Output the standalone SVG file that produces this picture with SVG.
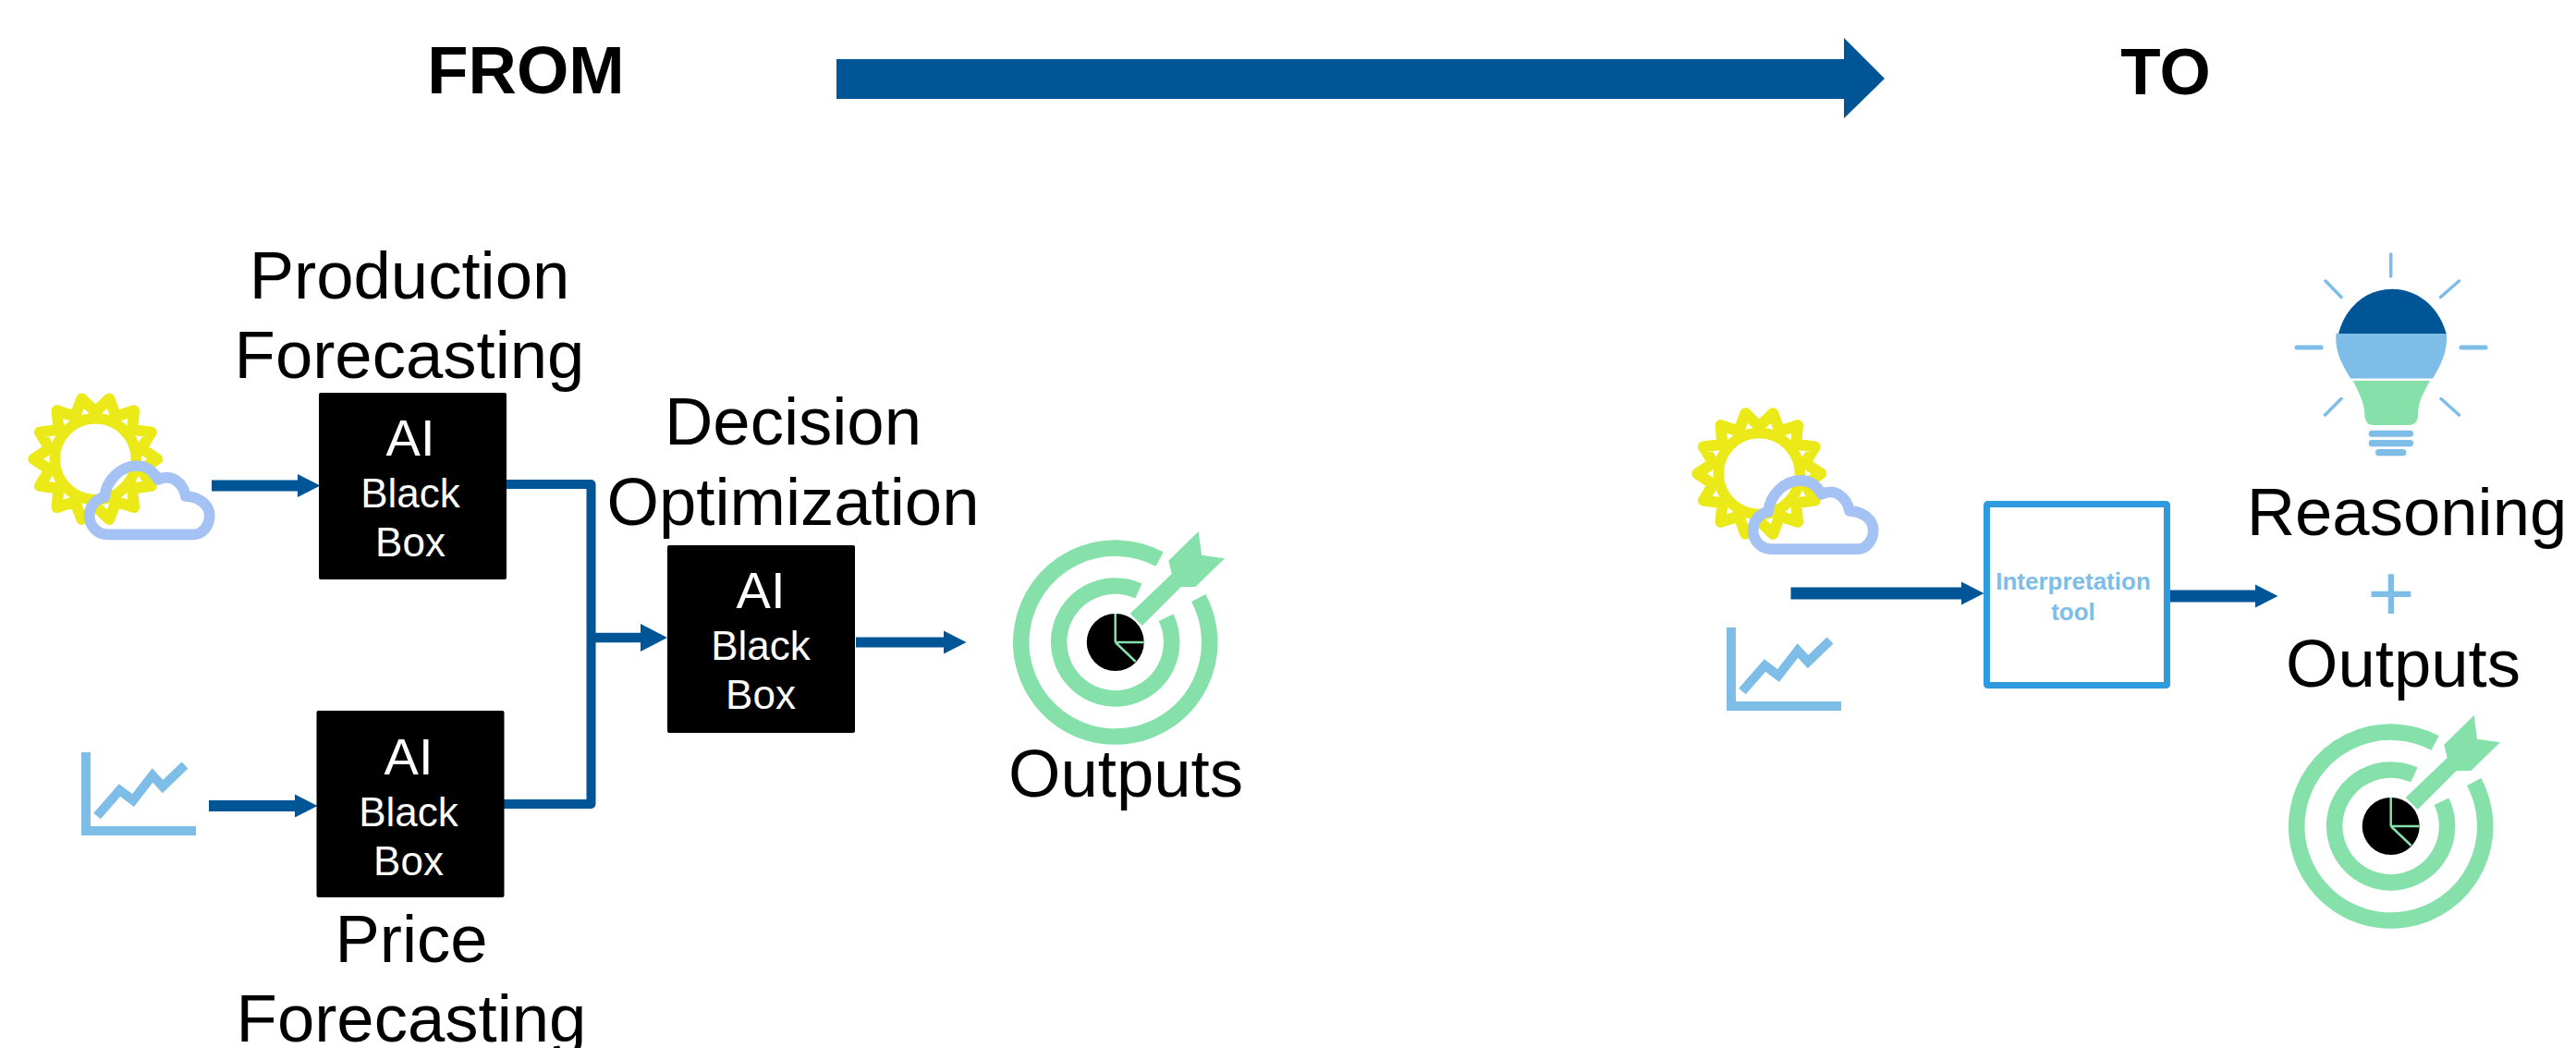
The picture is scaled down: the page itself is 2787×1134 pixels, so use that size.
<svg xmlns="http://www.w3.org/2000/svg" width="2787" height="1134" viewBox="0 0 2787 1134">
<style>
text{font-family:"Liberation Sans",Arial,sans-serif;text-anchor:middle;fill:#000}
.h{font-size:71px;font-weight:bold}
.l{font-size:72.5px}
.ai{font-size:56px;fill:#fff}
.bb{font-size:44px;fill:#fff}
.it{font-size:26px;font-weight:bold;fill:#7dbde8}
.box{fill:#000}
.c{fill:none;stroke:#005596;stroke-linejoin:round}
.ray{stroke:#7dbde8;stroke-linecap:round;fill:none}
.lb{fill:#7dbde8}
</style>
<defs>
<marker id="head" markerUnits="userSpaceOnUse" markerWidth="26" markerHeight="28" refX="0" refY="14" orient="auto" overflow="visible"><path d="M0 1.500L24.500 14L0 26.500Z" fill="#005596"/></marker>
<marker id="headL" markerUnits="userSpaceOnUse" markerWidth="30" markerHeight="32" refX="0" refY="16" orient="auto" overflow="visible"><path d="M0 1L29 16L0 31Z" fill="#005596"/></marker>
<g id="sun">
<polygon points="67,0 49.700,11.400 60.400,29.100 39.900,31.800 41.700,52.400 22.200,46 14.900,65.300 0,51 -14.900,65.300 -22.200,46 -41.700,52.400 -39.900,31.800 -60.400,29.100 -49.700,11.400 -67,0 -49.700,-11.400 -60.400,-29.100 -39.900,-31.800 -41.700,-52.400 -22.200,-46 -14.900,-65.300 0,-51 14.900,-65.300 22.200,-46 41.700,-52.400 39.900,-31.800 60.400,-29.100 49.700,-11.400" fill="none" stroke="#ece918" stroke-width="12" stroke-linejoin="round"/>
<circle r="44" fill="none" stroke="#ece918" stroke-width="11.500"/>
<path transform="translate(-103.300 -496.700)" d="M116.700 578.300C105 578.300 96.700 569 96.700 558.300C96.700 548 103 540 113 538C115 520 130 504 148.300 504C158 504 166 510 171 519C185 512 198 522 201 537C216 538 226.700 546 226.700 558.300C226.700 570 218 578.300 210 578.300Z" fill="none" stroke="#a4c2f4" stroke-width="11.700" stroke-linejoin="round"/>
</g>
<g id="chart" fill="none" stroke="#7dbde8">
<path d="M93 814V899H212" stroke-width="10"/>
<path d="M105 883L129.500 855L144 866L165 839L176 851L200 828" stroke-width="10"/>
</g>
<g id="target">
<path d="M90 -48A102 102 0 1 1 47.900 -90" fill="none" stroke="#85e0a9" stroke-width="17.500"/>
<path d="M54.800 -26.700A61 61 0 1 1 25.200 -55.600" fill="none" stroke="#85e0a9" stroke-width="17.500"/>
<polygon points="16,-31 61,-74 57.600,-88.300 90,-120 93.300,-94.300 118.300,-90.700 86.600,-60 71,-60 29,-18" fill="#85e0a9"/>
<circle r="31" fill="#000"/>
<path d="M0 0V-31M0 0H31M0 0L22 21" fill="none" stroke="#85e0a9" stroke-width="2.500"/>
</g>
</defs>
<g id="header">
<text class="h" x="569" y="101" style="font-size:72.500px">FROM</text>
<text class="h" x="2343" y="102">TO</text>
<polygon id="main-arrow" points="905,64 1995,64 1995,41 2039,85 1995,128 1995,107 905,107" fill="#005596"/>
</g>
<g id="connectors">
<path class="c" stroke-width="12" d="M229 525.500H322" marker-end="url(#head)"/>
<path class="c" stroke-width="12" d="M226 872H319" marker-end="url(#head)"/>
<path class="c" stroke-width="10" d="M548 524H639.500V870H545"/>
<path class="c" stroke-width="10.500" d="M636 690H693" marker-end="url(#headL)"/>
<path class="c" stroke-width="11" d="M926 695H1021" marker-end="url(#head)"/>
<path class="c" stroke-width="13" d="M1937.500 642H2122" marker-end="url(#head)"/>
<path class="c" stroke-width="13" d="M2347 645H2440" marker-end="url(#head)"/>
</g>
<g id="weather-from"><use href="#sun" x="103.300" y="496.700"/></g>
<g id="chart-from"><use href="#chart"/></g>
<g id="production-box">
<text class="l" x="443" y="323">Production</text>
<text class="l" x="443" y="409">Forecasting</text>
<rect class="box" x="345" y="425" width="203" height="202" rx="2"/>
<text class="ai" x="444" y="493">AI</text>
<text class="bb" x="444" y="549">Black</text>
<text class="bb" x="444" y="602">Box</text>
</g>
<g id="price-box">
<rect class="box" x="342.500" y="769" width="203" height="202" rx="2"/>
<text class="ai" x="442" y="838">AI</text>
<text class="bb" x="442" y="894">Black</text>
<text class="bb" x="442" y="947">Box</text>
<text class="l" x="445" y="1041">Price</text>
<text class="l" x="445" y="1127">Forecasting</text>
</g>
<g id="decision-box">
<text class="l" x="858" y="481">Decision</text>
<text class="l" x="858" y="568">Optimization</text>
<rect class="box" x="722" y="590" width="203" height="203" rx="2"/>
<text class="ai" x="823" y="658">AI</text>
<text class="bb" x="823" y="714">Black</text>
<text class="bb" x="823" y="767">Box</text>
</g>
<g id="outputs-from">
<use href="#target" x="1206.700" y="695"/>
<text class="l" x="1218" y="862">Outputs</text>
</g>
<g id="weather-to"><use href="#sun" x="1903.300" y="512.500"/></g>
<g id="chart-to"><use href="#chart" x="1780" y="-135"/></g>
<g id="interpretation-tool">
<rect x="2149.500" y="545.500" width="195" height="196" rx="1" fill="#fff" stroke="#2e9bdf" stroke-width="7"/>
<text class="it" x="2243" y="638">Interpretation</text>
<text class="it" x="2243" y="671">tool</text>
</g>
<g id="bulb">
<path class="ray" stroke-width="3.500" d="M2586.700 275V299M2516 304L2533 321.500M2660.500 304L2640.500 321.500M2533 431.500L2515.500 449M2641 431.500L2660.500 449"/>
<path class="ray" stroke-width="5" stroke-linecap="butt" d="M2485 376H2511M2663 376H2689"/>
<path d="M2530 361C2538 330 2562 312.700 2588 312.700C2614 312.700 2638 330 2646.700 361Z" fill="#005596"/>
<path class="lb" d="M2527.500 361H2647C2648 380 2642 393 2632 409.500H2543C2533 393 2526 380 2527.500 361Z"/>
<path d="M2545.700 412H2629C2621 427 2616 435 2616 450C2616 456 2612 460 2606 460H2568C2562 460 2558.500 456 2558.500 450C2558 435 2553 427 2545.700 412Z" fill="#85e0a9"/>
<rect class="lb" x="2562.700" y="465.700" width="48.300" height="7" rx="3.500"/>
<rect class="lb" x="2562.700" y="476" width="48.300" height="7.300" rx="3.500"/>
<rect class="lb" x="2570" y="486" width="33.300" height="7.300" rx="3.500"/>
</g>
<g id="reasoning-outputs">
<text class="l" x="2604" y="579">Reasoning</text>
<text x="2587" y="672" font-size="88" style="fill:#7dbde8">+</text>
<text class="l" x="2600" y="743">Outputs</text>
<use href="#target" x="2586.700" y="894"/>
</g>
</svg>
